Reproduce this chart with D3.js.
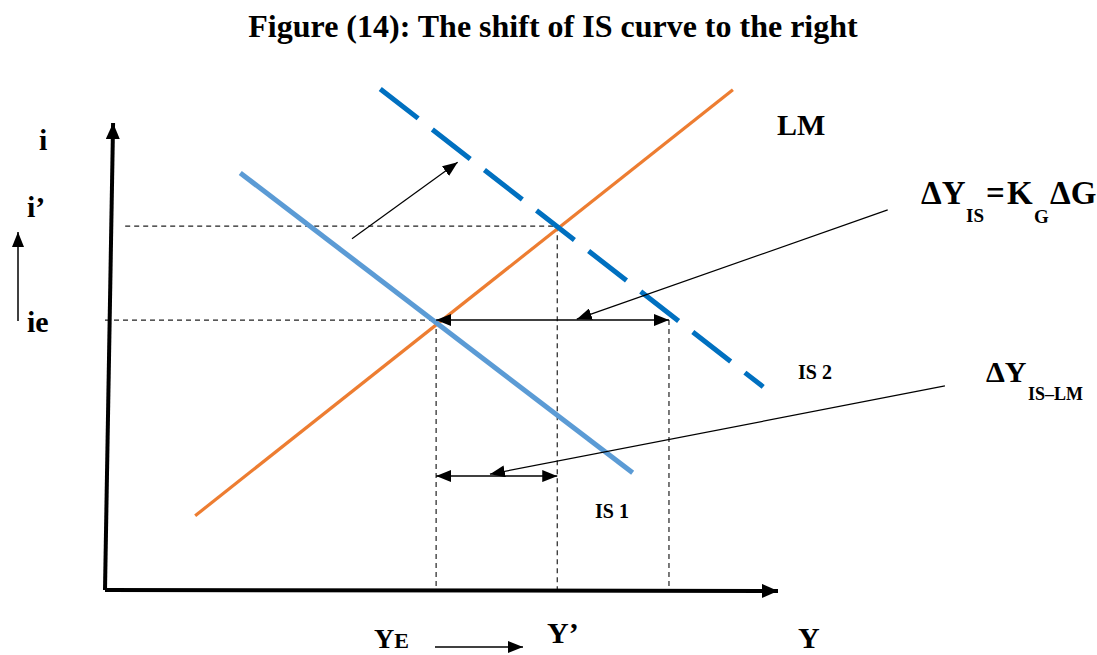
<!DOCTYPE html>
<html>
<head>
<meta charset="utf-8">
<script src="https://cdn.jsdelivr.net/npm/d3@7"></script>
<style>
  html, body { margin: 0; padding: 0; background: #fff; }
  svg { display: block; }
  text { font-family: "Liberation Serif", "Times New Roman", serif; font-weight: bold; fill: #000; }
</style>
</head>
<body>
<svg id="chart" width="1097" height="655"></svg>
<script>
// ---- data (model units: output Y on x, interest rate i on y) ----
const titleText = "Figure (14): The shift of IS curve to the right";
const curveNames = ["LM", "IS 1", "IS 2"];
const lmPoints  = [[13.4, 15.9], [93.3, 107.1]];
const is1Points = [[20.1, 89.3], [78.4, 25.1]];
const is2Points = [[40.9, 107.3], [97.8, 43.5]];
const yLevels   = [49.2, 67.2, 83.8];        // Y_E, Y', Y with IS2 at ie
const iLevels   = [57.8, 77.9];              // ie, i'
const yAxisLine = [[0, 0], [1.2, 100]];
const xAxisLine = [[0, 0], [100, -0.2]];
const shiftArrow = [[36.7, 75.2], [52.4, 91.6]];
const leaderIS   = [[116.3, 81.4], [70.1, 58.0]];
const leaderISLM = [[124.8, 43.7], [57.2, 24.8]];
const lowerArrowLevel = 24.4;
const iPrimeStart = 3.0;

const svg = d3.select("#chart");
const x = d3.scaleLinear().domain([0, 100]).range([105, 778]);
const y = d3.scaleLinear().domain([0, 100]).range([590, 123]);
const line = d3.line().x(d => x(d[0])).y(d => y(d[1]));

// markers
const defs = svg.append("defs");
function marker(id, len, w) {
  defs.append("marker")
    .attr("id", id).attr("markerUnits", "userSpaceOnUse")
    .attr("markerWidth", len).attr("markerHeight", w)
    .attr("refX", len).attr("refY", w / 2)
    .attr("orient", "auto-start-reverse")
    .append("path").attr("d", `M0,0 L${len},${w/2} L0,${w} Z`).attr("fill", "#000");
}
marker("axisHead", 16, 14);
marker("head", 15, 12);

// title
svg.append("text").attr("x", 553).attr("y", 37).attr("text-anchor", "middle")
  .attr("font-size", 32).text(titleText);

// dashed guides
const guides = svg.append("g").attr("stroke", "#222").attr("stroke-width", 1.2)
  .attr("stroke-dasharray", "5,4").attr("fill", "none");
guides.append("path").attr("d", line([[iPrimeStart, iLevels[1]], [yLevels[1], iLevels[1]]]));
guides.append("path").attr("d", line([[0, iLevels[0]], [yLevels[0], iLevels[0]]]));
guides.append("path").attr("d", line([[yLevels[0], iLevels[0]], [yLevels[0], 0]]));
guides.append("path").attr("d", line([[yLevels[1], iLevels[1]], [yLevels[1], 0]]));
guides.append("path").attr("d", line([[yLevels[2], iLevels[0]], [yLevels[2], 0]]));

// curves
svg.append("path").attr("d", line(lmPoints)).attr("stroke", "#ED7D31").attr("stroke-width", 3.2).attr("fill", "none");
svg.append("path").attr("d", line(is1Points)).attr("stroke", "#5B9BD5").attr("stroke-width", 5).attr("fill", "none");
svg.append("path").attr("d", line(is2Points)).attr("stroke", "#0070C0").attr("stroke-width", 5)
  .attr("stroke-dasharray", "48,18").attr("fill", "none");

// axes
svg.append("path").attr("d", line(yAxisLine)).attr("stroke", "#000").attr("stroke-width", 4)
  .attr("fill", "none").attr("marker-end", "url(#axisHead)");
svg.append("path").attr("d", line(xAxisLine)).attr("stroke", "#000").attr("stroke-width", 4)
  .attr("fill", "none").attr("marker-end", "url(#axisHead)");

// double arrows
const arrows = svg.append("g").attr("stroke", "#000").attr("stroke-width", 1.5).attr("fill", "none");
arrows.append("path").attr("d", line([[yLevels[0], iLevels[0]], [yLevels[2], iLevels[0]]]))
  .attr("marker-start", "url(#head)").attr("marker-end", "url(#head)");
arrows.append("path").attr("d", line([[yLevels[0], lowerArrowLevel], [yLevels[1], lowerArrowLevel]]))
  .attr("marker-start", "url(#head)").attr("marker-end", "url(#head)");
// leaders and shift arrow
arrows.append("path").attr("d", line(shiftArrow)).attr("stroke-width", 1.2).attr("marker-end", "url(#head)");
arrows.append("path").attr("d", line(leaderIS)).attr("stroke-width", 1.2).attr("marker-end", "url(#head)");
arrows.append("path").attr("d", line(leaderISLM)).attr("stroke-width", 1.2).attr("marker-end", "url(#head)");
// small direction arrows
arrows.append("path").attr("d", "M18,321 L18,232").attr("stroke-width", 1.5).attr("marker-end", "url(#head)");
arrows.append("path").attr("d", "M435,647 L523,647").attr("stroke-width", 1.5).attr("marker-end", "url(#head)");

// labels
const L = (tx, ty, s, t) => svg.append("text").attr("x", tx).attr("y", ty).attr("font-size", s).text(t);
L(39, 150, 30, "i");
L(27, 217, 30, "i\u2019");
L(27, 332, 30, "ie");
L(777, 135, 30, curveNames[0]);
L(595, 518, 20, curveNames[1]);
L(798, 379, 20, curveNames[2]);
L(798, 648, 30, "Y");
L(547, 643, 30, "Y\u2019");
const ye = svg.append("text").attr("x", 374).attr("y", 648).attr("font-size", 28);
ye.append("tspan").text("Y");
ye.append("tspan").attr("font-size", 22).text("E");

const f = svg.append("text").attr("y", 204).attr("font-size", 33);
f.append("tspan").attr("x", 921).text("\u0394Y");
f.append("tspan").attr("x", 966).attr("y", 222).attr("font-size", 19).text("IS");
f.append("tspan").attr("x", 986).attr("y", 204).text("=");
f.append("tspan").attr("x", 1007).attr("y", 204).text("K");
f.append("tspan").attr("x", 1034).attr("y", 223).attr("font-size", 19).text("G");
f.append("tspan").attr("x", 1050).attr("y", 204).text("\u0394G");

const g2 = svg.append("text").attr("y", 382).attr("font-size", 30);
g2.append("tspan").attr("x", 986).text("\u0394Y");
g2.append("tspan").attr("x", 1028).attr("y", 400).attr("font-size", 18).text("IS\u2013LM");
</script>
</body>
</html>
